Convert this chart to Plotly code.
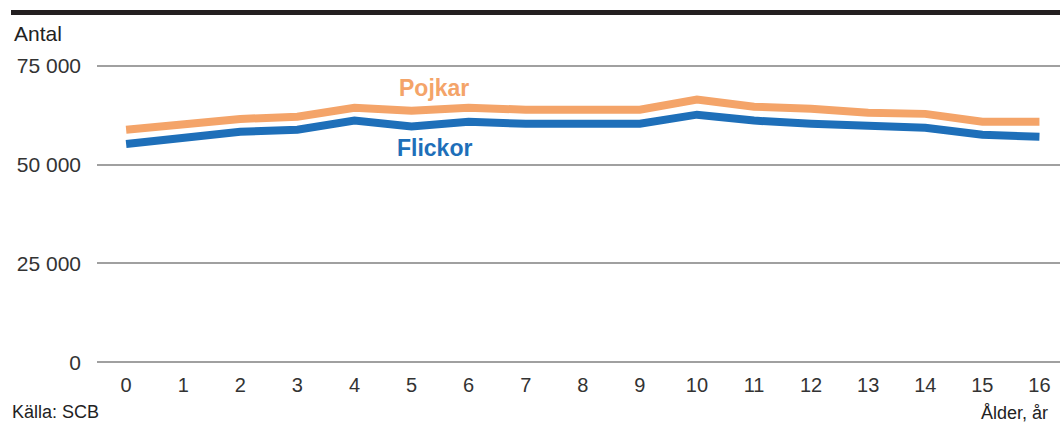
import plotly.graph_objects as go

# data
ages = list(range(17))
pojkar = [58800, 60050, 61500, 62100, 64350, 63600, 64350, 63850, 64100, 63850,
          66400, 64600, 64100, 63100, 62800, 60800, 60800]
flickor = [55200, 56700, 58300, 58800, 61100, 59600, 60800, 60300, 60550, 60300,
           62600, 61100, 60300, 59800, 59300, 57500, 57000]
y_ticks = [0, 25000, 50000, 75000]
y_tick_text = ['0', '25 000', '50 000', '75 000']

orange = '#F4A469'
blue = '#1E6FB9'
font = 'Liberation Sans, Arial, sans-serif'
text_col = '#333333'

fig = go.Figure()
fig.add_trace(go.Scatter(x=ages, y=pojkar, mode='lines', name='Pojkar',
                         line=dict(color=orange, width=8)))
fig.add_trace(go.Scatter(x=ages, y=flickor, mode='lines', name='Flickor',
                         line=dict(color=blue, width=8)))

fig.update_layout(
    width=1060, height=427,
    margin=dict(l=97, r=0, t=64, b=63),
    paper_bgcolor='white', plot_bgcolor='white',
    showlegend=False,
    font=dict(family=font, size=20, color=text_col),
    xaxis=dict(range=[-0.51, 16.36], tickvals=ages, showgrid=False, zeroline=False,
               showline=False, ticks='outside', ticklen=3, tickcolor='rgba(0,0,0,0)',
               tickfont=dict(size=20, color=text_col)),
    # range padded a little so the 0 and 75 000 grid lines are drawn
    yaxis=dict(range=[-400, 75400], tickvals=y_ticks, ticktext=y_tick_text,
               showgrid=True, gridcolor='#a0a0a0', gridwidth=1.6,
               zeroline=False, showline=False, ticklabelstandoff=15,
               tickfont=dict(size=21, color=text_col)),
)

# heavy black rule across the top
fig.add_shape(type='line', xref='paper', yref='paper',
              x0=-0.0893, x1=1, y0=1.1717, y1=1.1717,
              line=dict(color='#231F20', width=5))

# series labels
fig.add_annotation(x=5.39, y=69400, text='<b>Pojkar</b>', showarrow=False,
                   font=dict(size=23, color=orange, family=font), xanchor='center')
fig.add_annotation(x=5.41, y=54200, text='<b>Flickor</b>', showarrow=False,
                   font=dict(size=23, color=blue, family=font), xanchor='center')

# axis captions
fig.add_annotation(xref='paper', yref='paper', x=-0.0883, y=1.1, text='Antal',
                   showarrow=False, xanchor='left', yanchor='middle',
                   font=dict(size=21, color='#222222'))
fig.add_annotation(xref='paper', yref='paper', x=-0.0903, y=-0.16, text='Källa: SCB',
                   showarrow=False, xanchor='left', yanchor='middle',
                   font=dict(size=18, color='#222222'))
fig.add_annotation(xref='paper', yref='paper', x=0.9896, y=-0.163, text='Ålder, år',
                   showarrow=False, xanchor='right', yanchor='middle',
                   font=dict(size=18, color='#222222'))

fig.write_html('out.html', config={'displayModeBar': False},
               post_script="document.body.style.margin='0';")
